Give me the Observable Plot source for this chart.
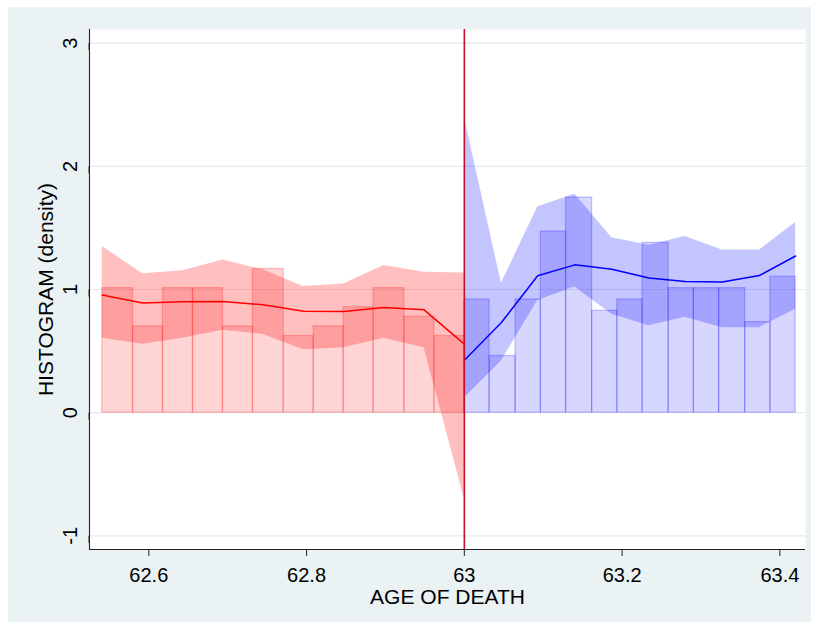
<!DOCTYPE html>
<html>
<head>
<meta charset="utf-8">
<script src="https://cdn.jsdelivr.net/npm/d3@7"></script>
<script src="https://cdn.jsdelivr.net/npm/@observablehq/plot@0.6"></script>
<style>
  html, body { margin: 0; padding: 0; background: #ffffff; }
  #wrap { position: relative; width: 819px; height: 629px; overflow: hidden; background: #ffffff; }
  #bg { position: absolute; left: 8px; top: 7px; width: 803px; height: 615px; background: #eaf2f3; }
  #chart { position: absolute; left: 0; top: 0; }
  #chart svg { background: transparent !important; }
</style>
</head>
<body>
<div id="wrap"><div id="bg"></div><div id="chart"></div></div>
<script>
// ---- data ----
const xTicks = [62.6, 62.8, 63, 63.2, 63.4];
const yTicks = [-1, 0, 1, 2, 3];
const cutoff = 63;

// histogram bins (left of cutoff)
const leftEdges = [62.541, 62.580, 62.618, 62.656, 62.694, 62.732, 62.771, 62.809, 62.847, 62.885, 62.924, 62.962, 63.000];
const leftDensity = [1.011, 0.700, 1.011, 1.011, 0.700, 1.167, 0.622, 0.700, 0.856, 1.011, 0.778, 0.622];
// histogram bins (right of cutoff)
const rightEdges = [63.000, 63.032, 63.065, 63.097, 63.129, 63.162, 63.194, 63.226, 63.259, 63.291, 63.323, 63.356, 63.388, 63.420];
const rightDensity = [0.919, 0.460, 0.919, 1.470, 1.746, 0.827, 0.919, 1.379, 1.011, 1.011, 1.011, 0.735, 1.103];

// local fit with confidence band (left)
const leftFitX = [62.541, 62.592, 62.643, 62.694, 62.745, 62.796, 62.847, 62.898, 62.949, 63.000];
const leftFit = [0.956, 0.890, 0.900, 0.902, 0.876, 0.824, 0.821, 0.854, 0.835, 0.556];
const leftUpper = [1.350, 1.127, 1.152, 1.239, 1.160, 1.024, 1.044, 1.195, 1.140, 1.133];
const leftLower = [0.604, 0.556, 0.604, 0.670, 0.634, 0.510, 0.528, 0.605, 0.528, -0.700];
// local fit with confidence band (right)
const rightFitX = [63.000, 63.047, 63.093, 63.140, 63.187, 63.234, 63.280, 63.327, 63.374, 63.420];
const rightFit = [0.426, 0.732, 1.111, 1.200, 1.165, 1.093, 1.065, 1.060, 1.113, 1.272];
const rightUpper = [2.400, 1.050, 1.670, 1.775, 1.420, 1.360, 1.430, 1.320, 1.320, 1.545];
const rightLower = [0.120, 0.420, 0.910, 1.020, 0.800, 0.705, 0.775, 0.690, 0.690, 0.840];

const xTitle = "AGE OF DEATH";
const yTitle = "HISTOGRAM (density)";

// ---- build tables ----
const binsOf = (edges, dens) => dens.map((d, i) => ({x1: edges[i], x2: edges[i + 1], h: d}));
const leftBins = binsOf(leftEdges, leftDensity);
const rightBins = binsOf(rightEdges, rightDensity);
const fitOf = (xs, f, lo, hi) => xs.map((x, i) => ({x, f: f[i], lo: lo[i], hi: hi[i]}));
const leftFitT = fitOf(leftFitX, leftFit, leftLower, leftUpper);
const rightFitT = fitOf(rightFitX, rightFit, rightLower, rightUpper);

const RED = "#ff0000", BLUE = "#0000ff";
const font = "'Liberation Sans', Arial, Helvetica, sans-serif";

const chart = Plot.plot({
  width: 819,
  height: 629,
  marginLeft: 89,
  marginTop: 29,
  marginRight: 14,
  marginBottom: 80,
  style: {fontFamily: font, fontSize: "20px", color: "#000", background: "transparent"},
  x: {domain: [62.5248, 63.4325]},
  y: {domain: [-1.111, 3.111]},
  marks: [
    Plot.frame({fill: "#ffffff"}),
    Plot.gridY(yTicks, {stroke: "#e3ebed", strokeOpacity: 1, strokeWidth: 1.1}),
    // confidence bands
    Plot.areaY(leftFitT, {x: "x", y1: "lo", y2: "hi", fill: RED, fillOpacity: 0.25}),
    Plot.areaY(rightFitT, {x: "x", y1: "lo", y2: "hi", fill: BLUE, fillOpacity: 0.23}),
    // histograms
    Plot.rect(leftBins, {x1: "x1", x2: "x2", y1: 0, y2: "h", fill: RED, fillOpacity: 0.17, stroke: RED, strokeOpacity: 0.22, strokeWidth: 1.3}),
    Plot.rect(rightBins, {x1: "x1", x2: "x2", y1: 0, y2: "h", fill: BLUE, fillOpacity: 0.16, stroke: BLUE, strokeOpacity: 0.22, strokeWidth: 1.3}),
    // fit lines
    Plot.line(leftFitT, {x: "x", y: "f", stroke: RED, strokeWidth: 1.5}),
    Plot.line(rightFitT, {x: "x", y: "f", stroke: BLUE, strokeWidth: 1.5}),
    // cutoff
    Plot.ruleX([cutoff], {stroke: "#c8102e", strokeWidth: 1.6}),
    // axis lines
    Plot.ruleX([62.5248], {stroke: "#222", strokeWidth: 1.1}),
    Plot.ruleY([-1.111], {stroke: "#222", strokeWidth: 1.1}),
    // axes
    Plot.axisX(xTicks, {tickSize: 7, tickPadding: 11, fontSize: 20, label: null, tickFormat: d => String(d), stroke: "#222"}),
    Plot.axisY(yTicks, {tickSize: 7, tickPadding: 6, fontSize: 20, label: null, tickFormat: d => String(d),
      rotate: -90, textAnchor: "middle", lineAnchor: "bottom", stroke: "#222"}),
    // titles
    Plot.text([xTitle], {frameAnchor: "bottom", dy: 48, fontSize: 21, textAnchor: "middle", lineAnchor: "middle", text: d => d, fill: "#000"}),
    Plot.text([yTitle], {frameAnchor: "left", dx: -43, fontSize: 21, rotate: -90, textAnchor: "middle", lineAnchor: "middle", text: d => d, fill: "#000"})
  ]
});
document.getElementById("chart").appendChild(chart);
</script>
</body>
</html>
